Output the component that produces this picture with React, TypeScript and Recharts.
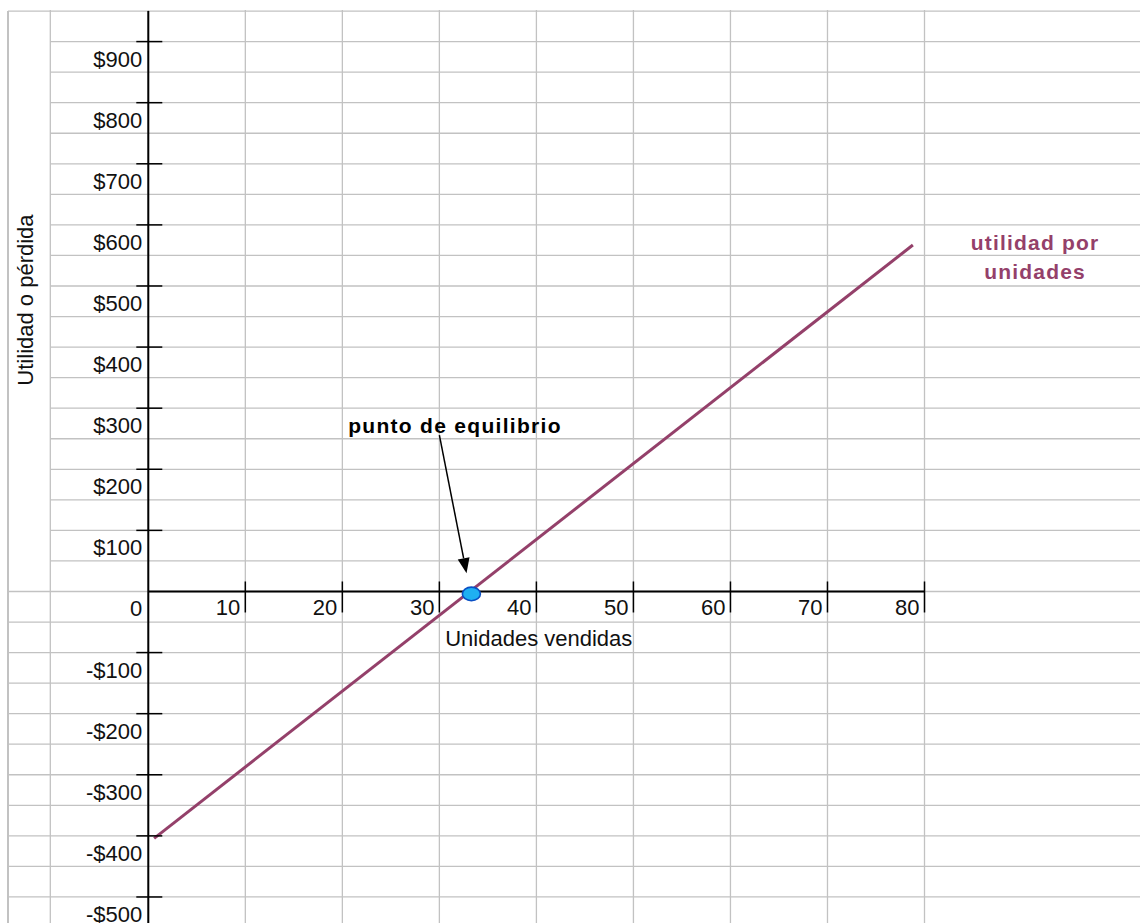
import {
  LineChart, Line, XAxis, YAxis, CartesianGrid,
  ReferenceLine, ReferenceDot
} from 'recharts'

// recta de utilidad (extremos)
const units = [0.6, 78.8]
const profit = [-404, 567]

// punto de equilibrio
const breakEvenUnits = 33.3
const breakEvenProfit = -4

const xTicks = [10, 20, 30, 40, 50, 60, 70, 80]
const yTicks = [-500, -400, -300, -200, -100, 0, 100, 200, 300, 400, 500, 600, 700, 800, 900]

// cuadrícula de la hoja de cálculo
const gridCols = [-10.1, 0, 10, 20, 30, 40, 50, 60, 70, 80]
const gridRows = [950, 900, 850, 800, 750, 700, 650, 600, 550, 500, 450, 400, 350, 300, 250,
  200, 150, 100, 50, 0, -50, -100, -150, -200, -250, -300, -350, -400, -450, -500]

const X_DOMAIN: [number, number] = [-14.46, 102.21]
const Y_DOMAIN: [number, number] = [-542.6, 951.7]
const STRIP_EDGE = -10.1 // celda combinada del título del eje Y

const FONT = '"Liberation Sans", Arial, sans-serif'
const PLUM = '#94406a'
const GRID = '#c2c2c2'

const chartData = units.map((u, i) => ({ u, p: profit[i] }))

const money = (v: number) => (v === 0 ? '0' : `${v < 0 ? '-' : ''}$${Math.abs(v)}`)

const xTickShape = (label: string) => (p: any) => (
  <g>
    <line x1={p.cx} y1={p.cy - 10} x2={p.cx} y2={p.cy + 21} stroke="#000" strokeWidth={1.5} />
    <text x={p.cx - 5} y={p.cy + 24} textAnchor="end" fontSize={22} fontFamily={FONT} fill="#111">
      {label}
    </text>
  </g>
)

const yTickShape = (v: number) => (p: any) => (
  <g>
    {v !== 0 && (
      <line x1={p.cx - 12} y1={p.cy} x2={p.cx + 14} y2={p.cy} stroke="#000" strokeWidth={1.5} />
    )}
    <text x={p.cx - 6} y={p.cy + 25} textAnchor="end" fontSize={22} fontFamily={FONT} fill="#111">
      {money(v)}
    </text>
  </g>
)

const Arrow = (p: any) => {
  const { x1, y1, x2, y2 } = p
  const a = Math.atan2(y2 - y1, x2 - x1)
  const len = 15
  const half = 6
  const bx = x2 - len * Math.cos(a)
  const by = y2 - len * Math.sin(a)
  return (
    <g>
      <line x1={x1} y1={y1} x2={bx} y2={by} stroke="#000" strokeWidth={1.5} />
      <polygon
        points={`${x2},${y2} ${bx - half * Math.sin(a)},${by + half * Math.cos(a)} ${bx + half * Math.sin(a)},${by - half * Math.cos(a)}`}
        fill="#000"
      />
    </g>
  )
}

export default function App() {
  return (
    <div style={{ position: 'fixed', left: 0, top: 0, background: '#fff' }}>
      <LineChart width={1140} height={923} data={chartData}
        margin={{ top: 10, right: 0, left: 8, bottom: 0 }}>
        <XAxis dataKey="u" type="number" domain={X_DOMAIN} allowDataOverflow hide />
        <YAxis type="number" domain={Y_DOMAIN} allowDataOverflow hide />
        <CartesianGrid horizontal={false} verticalValues={gridCols} stroke={GRID} strokeWidth={1.3} />

        {/* borde izquierdo de la hoja */}
        <ReferenceLine
          segment={[{ x: X_DOMAIN[0], y: 950 }, { x: X_DOMAIN[0], y: Y_DOMAIN[0] }]}
          stroke={GRID}
          strokeWidth={2}
          ifOverflow="visible"
        />

        {gridRows.map(v => (
          <ReferenceLine
            key={`row${v}`}
            segment={[{ x: v > 0 && v < 950 ? STRIP_EDGE : X_DOMAIN[0], y: v }, { x: X_DOMAIN[1], y: v }]}
            stroke={GRID}
            strokeWidth={1.3}
            ifOverflow="visible"
          />
        ))}

        {/* ejes que se cruzan en cero */}
        <ReferenceLine segment={[{ x: 0, y: 0 }, { x: 80, y: 0 }]} stroke="#000" strokeWidth={2} ifOverflow="visible" />
        <ReferenceLine segment={[{ x: 0, y: 950 }, { x: 0, y: Y_DOMAIN[0] }]} stroke="#000" strokeWidth={2} ifOverflow="visible" />

        {xTicks.map(t => (
          <ReferenceDot key={`xt${t}`} x={t} y={0} ifOverflow="visible" shape={xTickShape(String(t))} />
        ))}
        {yTicks.map(t => (
          <ReferenceDot key={`yt${t}`} x={0} y={t} ifOverflow="visible" shape={yTickShape(t)} />
        ))}

        <Line
          dataKey="p"
          stroke={PLUM}
          strokeWidth={3}
          dot={false}
          activeDot={false}
          isAnimationActive={false}
        />

        <ReferenceLine segment={[{ x: 30.0, y: 256 }, { x: 32.8, y: 30 }]} ifOverflow="visible" shape={Arrow} />

        <ReferenceDot
          x={breakEvenUnits}
          y={breakEvenProfit}
          ifOverflow="visible"
          shape={(p: any) => (
            <ellipse cx={p.cx} cy={p.cy} rx={9} ry={6.8} fill="#1fb0f2" stroke="#0a4fc4" strokeWidth={1.6} />
          )}
        />

        {/* textos */}
        <ReferenceDot x={-11.9} y={477} ifOverflow="visible" shape={(p: any) => (
          <text x={p.cx} y={p.cy} transform={`rotate(-90 ${p.cx} ${p.cy})`} textAnchor="middle"
            fontSize={22} fontFamily={FONT} fill="#111">Utilidad o pérdida</text>
        )} />
        <ReferenceDot x={30.6} y={-90} ifOverflow="visible" shape={(p: any) => (
          <text x={p.cx} y={p.cy} fontSize={22} fontFamily={FONT} fill="#111">Unidades vendidas</text>
        )} />
        <ReferenceDot x={20.6} y={259.4} ifOverflow="visible" shape={(p: any) => (
          <text x={p.cx} y={p.cy} fontSize={21} fontWeight="bold" letterSpacing={1.3}
            fontFamily={FONT} fill="#000">punto de equilibrio</text>
        )} />
        <ReferenceDot x={91.4} y={559} ifOverflow="visible" shape={(p: any) => (
          <text x={p.cx} y={p.cy} textAnchor="middle" fontSize={21} fontWeight="bold" letterSpacing={1.2}
            fontFamily={FONT} fill={PLUM}>
            <tspan x={p.cx}>utilidad por</tspan>
            <tspan x={p.cx} dy={29}>unidades</tspan>
          </text>
        )} />
      </LineChart>
    </div>
  )
}
